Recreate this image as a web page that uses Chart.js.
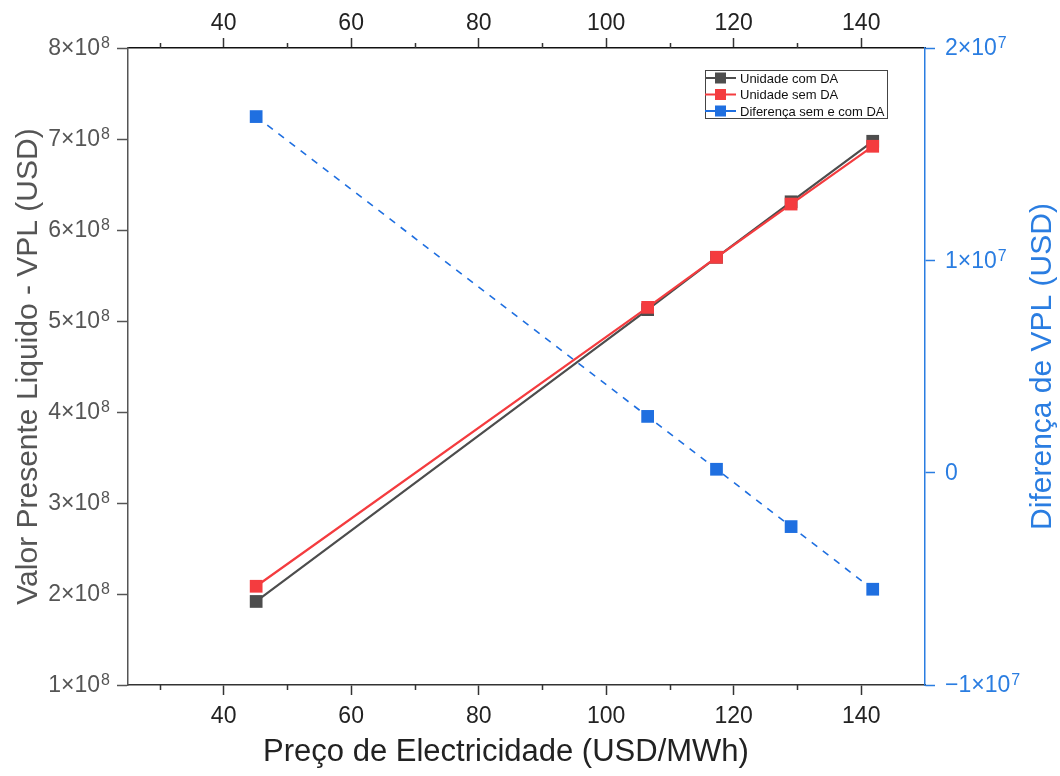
<!DOCTYPE html>
<html>
<head>
<meta charset="utf-8">
<script src="https://cdn.jsdelivr.net/npm/chart.js@4/dist/chart.umd.min.js"></script>
<style>
  html, body { margin: 0; background: #fff; }
  #wrap { width: 1060px; height: 776px; }
</style>
</head>
<body>
<div id="wrap"><canvas id="chart"></canvas></div>
<script>
// data
const preco = [45.1, 106.5, 117.3, 129.0, 141.8];
const vplComDA = [1.918e8, 5.125e8, 5.70e8, 6.31e8, 6.975e8];
const vplSemDA = [2.085e8, 5.15e8, 5.70e8, 6.285e8, 6.92e8];
const diferenca = [1.677e7, 0.265e7, 0.016e7, -0.254e7, -0.549e7];

const xTicks = [40, 60, 80, 100, 120, 140];
const xMinorTicks = [30, 50, 70, 90, 110, 130];
const yTicks = [1e8, 2e8, 3e8, 4e8, 5e8, 6e8, 7e8, 8e8];
const y1Ticks = [-1e7, 0, 1e7, 2e7];

const FONT = 'Arial, "Liberation Sans", sans-serif';
const BLACK = '#4d4d4d';
const RED = '#f43c3f';
const BLUE = '#1f6fe0';
const AXIS_BLUE = '#2a7de1';
const GREY = '#555';

const pts = (ys) => preco.map((x, i) => ({ x: x, y: ys[i] }));

// short minor ticks on the x axes
const minorTicks = {
  id: 'minorTicks',
  afterDraw(chart) {
    const ctx = chart.ctx;
    const bottom = chart.scales.x, top = chart.scales.x2;
    ctx.save();
    ctx.lineWidth = 1.5;
    ctx.strokeStyle = '#333';
    xMinorTicks.forEach(v => {
      const px = Math.round(bottom.getPixelForValue(v)) + 0.5;
      ctx.beginPath();
      ctx.moveTo(px, bottom.top);
      ctx.lineTo(px, bottom.top + 5);
      ctx.moveTo(px, top.bottom);
      ctx.lineTo(px, top.bottom - 5);
      ctx.stroke();
    });
    ctx.restore();
  }
};

// y tick labels written as a×10^n with a real superscript
function drawExpLabel(ctx, x, y, main, exp, align, color) {
  ctx.fillStyle = color;
  ctx.textBaseline = 'middle';
  ctx.textAlign = 'left';
  ctx.font = '23px ' + FONT;
  const wMain = ctx.measureText(main).width;
  ctx.font = '16px ' + FONT;
  const wExp = exp ? ctx.measureText(exp).width + 1 : 0;
  const x0 = align === 'right' ? x - wMain - wExp : x;
  ctx.font = '23px ' + FONT;
  ctx.fillText(main, x0, y + 1);
  if (exp) {
    ctx.font = '16px ' + FONT;
    ctx.fillText(exp, x0 + wMain + 1, y - 4);
  }
}

const axisText = {
  id: 'axisText',
  afterDraw(chart) {
    const ctx = chart.ctx;
    const area = chart.chartArea;
    const y = chart.scales.y, y1 = chart.scales.y1;
    ctx.save();
    yTicks.forEach(v => {
      drawExpLabel(ctx, area.left - 18, y.getPixelForValue(v), (v / 1e8) + '×10', '8', 'right', GREY);
    });
    y1Ticks.forEach(v => {
      const main = v === 0 ? '0' : (v < 0 ? '\u2212' : '') + Math.abs(v / 1e7) + '×10';
      drawExpLabel(ctx, area.right + 20, y1.getPixelForValue(v), main, v === 0 ? '' : '7', 'left', AXIS_BLUE);
    });
    // bottom axis title
    ctx.font = '31px ' + FONT;
    ctx.textAlign = 'center';
    ctx.textBaseline = 'middle';
    ctx.fillStyle = '#222';
    ctx.fillText('Preço de Electricidade (USD/MWh)', area.left + 378, chart.height - 24);
    // right axis title, reading bottom to top
    ctx.translate(chart.width - 17, (area.top + area.bottom) / 2);
    ctx.rotate(-Math.PI / 2);
    ctx.font = '30px ' + FONT;
    ctx.fillStyle = AXIS_BLUE;
    ctx.fillText('Diferença de VPL (USD)', 0, 0);
    ctx.restore();
  }
};

// boxed legend inside the plot, top right
const boxLegend = {
  id: 'boxLegend',
  afterDraw(chart) {
    const ctx = chart.ctx;
    const area = chart.chartArea;
    const x0 = area.right - 220, y0 = area.top + 22, w = 182, h = 48;
    ctx.save();
    ctx.fillStyle = '#fff';
    ctx.fillRect(x0, y0, w, h);
    ctx.strokeStyle = '#444';
    ctx.lineWidth = 1;
    ctx.strokeRect(x0 + 0.5, y0 + 0.5, w, h);
    chart.data.datasets.forEach((ds, i) => {
      const cy = y0 + 8 + i * 16.5;
      ctx.strokeStyle = ds.borderColor;
      ctx.lineWidth = 2;
      ctx.beginPath();
      ctx.moveTo(x0, cy);
      ctx.lineTo(x0 + 31, cy);
      ctx.stroke();
      ctx.fillStyle = ds.backgroundColor;
      ctx.fillRect(x0 + 10, cy - 5.5, 11, 11);
      ctx.fillStyle = '#111';
      ctx.font = '13px ' + FONT;
      ctx.textBaseline = 'middle';
      ctx.textAlign = 'left';
      ctx.fillText(ds.label, x0 + 35, cy + 1);
    });
    ctx.restore();
  }
};

const markerStyle = { pointStyle: 'rect', pointRadius: 9, pointBorderWidth: 0, showLine: true };

new Chart(document.getElementById('chart'), {
  type: 'scatter',
  data: {
    datasets: [{
      label: 'Unidade com DA',
      data: pts(vplComDA),
      yAxisID: 'y',
      borderColor: BLACK,
      backgroundColor: BLACK,
      borderWidth: 2.2,
      order: 2,
      ...markerStyle
    }, {
      label: 'Unidade sem DA',
      data: pts(vplSemDA),
      yAxisID: 'y',
      borderColor: RED,
      backgroundColor: RED,
      borderWidth: 2.2,
      order: 1,
      ...markerStyle
    }, {
      label: 'Diferença sem e com DA',
      data: pts(diferenca),
      yAxisID: 'y1',
      borderColor: BLUE,
      backgroundColor: BLUE,
      borderWidth: 1.6,
      borderDash: [7, 7],
      order: 3,
      ...markerStyle
    }]
  },
  options: {
    responsive: true,
    maintainAspectRatio: false,
    animation: false,
    layout: { padding: 0 },
    plugins: {
      legend: { display: false },
      tooltip: { enabled: false }
    },
    scales: {
      x: {
        type: 'linear',
        position: 'bottom',
        min: 25, max: 150,
        afterFit: s => { s.height = 91; },
        afterBuildTicks: s => { s.ticks = xTicks.map(v => ({ value: v })); },
        border: { color: '#333', width: 1.5 },
        grid: { drawOnChartArea: false, tickLength: 10, tickColor: '#333', tickWidth: 1.5 },
        ticks: { color: '#222', font: { family: FONT, size: 23 }, padding: 8, maxRotation: 0 }
      },
      x2: {
        type: 'linear',
        position: 'top',
        min: 25, max: 150,
        afterFit: s => { s.height = 48; },
        afterBuildTicks: s => { s.ticks = xTicks.map(v => ({ value: v })); },
        border: { color: '#111', width: 1.5 },
        grid: { drawOnChartArea: false, tickLength: 10, tickColor: '#333', tickWidth: 1.5 },
        ticks: { color: '#222', font: { family: FONT, size: 23 }, padding: 1, maxRotation: 0 }
      },
      y: {
        type: 'linear',
        position: 'left',
        min: 1e8, max: 8e8,
        afterFit: s => { s.width = 128; },
        afterBuildTicks: s => { s.ticks = yTicks.map(v => ({ value: v })); },
        border: { color: GREY, width: 1.5 },
        grid: { drawOnChartArea: false, tickLength: 11, tickColor: GREY, tickWidth: 1.5 },
        ticks: { display: false },
        title: {
          display: true,
          text: 'Valor Presente Liquido - VPL (USD)',
          color: GREY,
          font: { family: FONT, size: 30 },
          padding: { top: 11, bottom: 0 }
        }
      },
      y1: {
        type: 'linear',
        position: 'right',
        min: -1e7, max: 2e7,
        afterFit: s => { s.width = 135; },
        afterBuildTicks: s => { s.ticks = y1Ticks.map(v => ({ value: v })); },
        border: { color: AXIS_BLUE, width: 1.5 },
        grid: { drawOnChartArea: false, tickLength: 10, tickColor: AXIS_BLUE, tickWidth: 1.5 },
        ticks: { display: false }
      }
    }
  },
  plugins: [minorTicks, axisText, boxLegend]
});
</script>
</body>
</html>
